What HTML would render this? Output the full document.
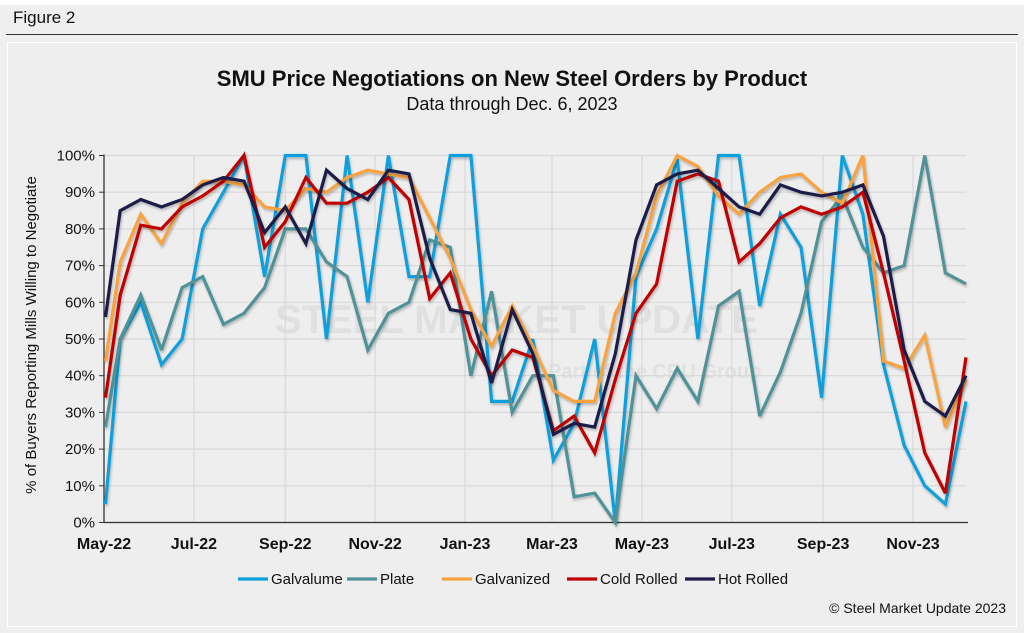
<!DOCTYPE html>
<html><head><meta charset="utf-8"><style>
html,body{margin:0;padding:0;background:#efefef;}
body{width:1024px;height:633px;position:relative;overflow:hidden;font-family:"Liberation Sans",Arial,sans-serif;}
</style></head><body>
<div style="position:absolute;left:0;top:0;width:1024px;height:5px;background:#fff"></div>
<div style="position:absolute;left:13px;top:8px;font-size:17px;color:#111">Figure 2</div>
<div style="position:absolute;left:6px;top:34px;width:1012px;height:1px;background:#333"></div>
<svg id="chart" width="1024" height="633" style="position:absolute;left:0;top:0" xmlns="http://www.w3.org/2000/svg">
<defs><filter id="sh" x="-5%" y="-5%" width="110%" height="110%"><feDropShadow dx="1" dy="2" stdDeviation="1.2" flood-color="#000" flood-opacity="0.25"/></filter></defs>
<rect x="7.5" y="42.5" width="1009" height="584" fill="#eeeeee" stroke="#ffffff" stroke-width="1"/>
<text x="512" y="86" text-anchor="middle" font-size="22" font-weight="bold" fill="#111">SMU Price Negotiations on New Steel Orders by Product</text>
<text x="512" y="110" text-anchor="middle" font-size="18" fill="#111">Data through Dec. 6, 2023</text>
<g fill="#e0e0e0" font-weight="bold">
<text x="275" y="333" font-size="40">STEEL MARKET UPDATE</text>
<text x="548" y="378" font-size="20">Part of the CRU Group</text>
</g>
<g id="grid"></g><g id="axes"></g><g id="series"></g>
<text transform="translate(36,335) rotate(-90)" text-anchor="middle" font-size="15" fill="#111">% of Buyers Reporting Mills Willing to Negotiate</text>
<g id="legend"></g>
<text x="1006" y="613" text-anchor="end" font-size="14" fill="#111">© Steel Market Update 2023</text>
</svg>
<script>
const days = [1,11,25,39,53,67,81,95,109,123,137,151,165,179,193,207,221,235,249,263,277,291,305,319,333,347,361,375,389,403,417,431,445,459,473,487,501,515,529,543,557,571,585];
const xTickLabels = ["May-22","Jul-22","Sep-22","Nov-22","Jan-23","Mar-23","May-23","Jul-23","Sep-23","Nov-23"];
const xTickDays = [0,61,123,184,245,304,365,426,488,549];
const yTicks = [0,10,20,30,40,50,60,70,80,90,100];
const seriesNames = ["Galvalume","Plate","Galvanized","Cold Rolled","Hot Rolled"];
const seriesColors = ["#0ea0dc","#4f9298","#f8a33f","#c00000","#1f1a4a"];
const galvalume = [5,50,60,43,50,80,90,100,67,100,100,50,100,60,100,67,67,100,100,33,33,50,17,27,50,0,67,80,99,50,100,100,59,84,75,34,100,84,43,21,10,5,33];
const plate = [26,50,62,47,64,67,54,57,64,80,80,71,67,47,57,60,77,75,40,63,30,40,40,7,8,0,40,31,42,33,59,63,29,41,57,82,89,75,68,70,100,68,65];
const galvanized = [44,71,84,76,87,93,93,92,86,85,91,90,94,96,95,94,83,72,58,48,59,48,36,33,33,57,68,89,100,97,89,84,90,94,95,90,87,100,44,42,51,26,39];
const coldRolled = [34,62,81,80,86,89,93,100,75,82,94,87,87,90,94,88,61,68,50,40,47,45,25,29,19,39,57,65,93,95,93,71,76,83,86,84,86,90,68,44,19,8,45];
const hotRolled = [56,85,88,86,88,92,94,93,79,86,76,96,91,88,96,95,72,58,57,38,58,46,24,27,26,46,77,92,95,96,91,86,84,92,90,89,90,92,78,47,33,29,40];
const allSeries = [galvalume, plate, galvanized, coldRolled, hotRolled];

const NS="http://www.w3.org/2000/svg";
const X0=104, X1=966, Y0=522.5, Y1=155.5, DMAX=585;
const pxPerDay=(913-104)/549;
function xs(d){return X0+d*pxPerDay;}
function ys(v){return Y0-(v/100)*(Y0-Y1);}
function mk(tag,attrs,parent){const e=document.createElementNS(NS,tag);for(const k in attrs)e.setAttribute(k,attrs[k]);parent.appendChild(e);return e;}
const grid=document.getElementById('grid'),axes=document.getElementById('axes'),ser=document.getElementById('series'),leg=document.getElementById('legend');
yTicks.forEach(v=>{
  const y=ys(v);
  const l=mk('line',{x1:X0,x2:X1,y1:y,y2:y,stroke:'#d9d9d9','stroke-width':1.2},grid);
  
  
  const t=mk('line',{x1:X0-5,x2:X0,y1:y,y2:y,stroke:'#333','stroke-width':1},axes);
  
  
  const tx=mk('text',{x:X0-9,y:y+5,'text-anchor':'end','font-size':15,fill:'#111'},axes);
  tx.textContent=v+'%';
  
  
});
xTickDays.forEach((d,i)=>{
  const x=xs(d);
  if(i>0){const g=mk('line',{x1:x,x2:x,y1:Y1,y2:Y0,stroke:'#d9d9d9','stroke-width':1.2},grid);
  
  }
  const t=mk('text',{x:x,y:549,'text-anchor':'middle','font-size':16,'font-weight':'bold',fill:'#111'},axes);
  t.textContent=xTickLabels[i];
  
  
});
const ax=mk('line',{x1:X0,x2:X0,y1:Y1-1,y2:Y0,stroke:'#333','stroke-width':1.3},axes);


const bx=mk('line',{x1:X0,x2:X1+2,y1:Y0,y2:Y0,stroke:'#333','stroke-width':1.3},axes);


allSeries.forEach((vals,si)=>{
  const pts=vals.map((v,i)=>xs(days[i]).toFixed(1)+','+ys(v).toFixed(1)).join(' ');
  const p=mk('polyline',{points:pts,fill:'none',stroke:seriesColors[si],'stroke-width':3.2,'stroke-linejoin':'miter','stroke-miterlimit':3,filter:'url(#sh)'},ser);
  
  
});
const legX=[238,347,442,567,685];
seriesNames.forEach((n,i)=>{
  const g=mk('g',{},leg);
  
  
  mk('line',{x1:legX[i],x2:legX[i]+30,y1:579,y2:579,stroke:seriesColors[i],'stroke-width':3.2},g);
  const t=mk('text',{x:legX[i]+33,y:584,'font-size':15,fill:'#111'},g);
  t.textContent=n;
});
</script>
</body></html>
